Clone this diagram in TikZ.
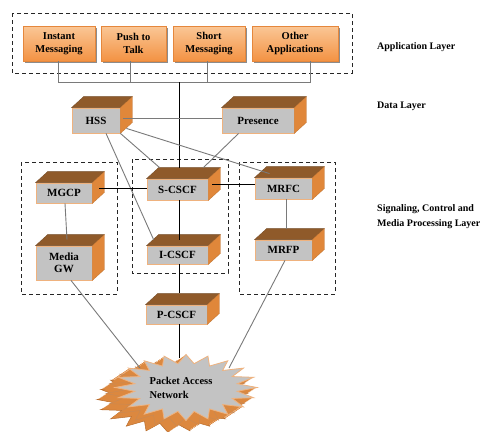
\documentclass[tikz,border=0pt]{standalone}
\usepackage{fontspec}
\setmainfont{Liberation Serif}
\usetikzlibrary{shadows,calc}
\definecolor{facec}{HTML}{C3C3C3}
\definecolor{edgec}{HTML}{EFB27E}
\definecolor{topc}{HTML}{8F5A2A}
\definecolor{sidec}{HTML}{E0873A}
\definecolor{apptop}{HTML}{FAC796}
\definecolor{appbot}{HTML}{F39243}
\definecolor{appedge}{HTML}{E5873C}
\definecolor{glinec}{HTML}{7A7A7A}
\definecolor{extc}{HTML}{DC883F}
\definecolor{extedge}{HTML}{B86C2C}
\newcommand\cubesides[1]{%
  \filldraw[fill=topc,draw=topc!80!black,line width=0.3pt] (#1.north west) -- ++(12,-11) -- ([shift={(12,-11)}]#1.north east) -- (#1.north east) -- cycle;
  \filldraw[fill=sidec,draw=sidec!85!black,line width=0.3pt] (#1.north east) -- ++(12,-11) -- ([shift={(12,-11)}]#1.south east) -- (#1.south east) -- cycle;}
\begin{document}
\begin{tikzpicture}[x=1pt,y=-1pt,
  cube/.style={fill=facec,draw=edgec,line width=0.8pt,font=\bfseries\fontsize{11}{12.5}\selectfont,align=center,inner sep=1pt},
  app/.style={top color=apptop,bottom color=appbot,draw=appedge,line width=0.6pt,
     font=\bfseries\fontsize{10.5}{12.5}\selectfont,align=center,inner sep=1pt,minimum height=35pt,
     drop shadow={shadow xshift=2pt,shadow yshift=-2pt,fill=black!45,opacity=1}},
  layer/.style={font=\bfseries\fontsize{10}{15}\selectfont,align=left,anchor=west,inner sep=0pt},
  dbox/.style={draw=black!85,dashed,dash pattern=on 4pt off 3pt,line width=0.8pt},
  gline/.style={draw=glinec,line width=0.9pt},
  bline/.style={draw=black,line width=0.8pt}]
\useasboundingbox (0,0) rectangle (487,431);
\fill[white] (0,0) rectangle (487,431);

% application layer
\draw[dbox] (12,13) rectangle (352,73);
\node[app,minimum width=72pt] (im)  at (59,43.5)  {Instant\\Messaging};
\node[app,minimum width=65pt] (ptt) at (133.5,43.5) {Push to\\Talk};
\node[app,minimum width=72pt] (sm)  at (209,43.5) {Short\\Messaging};
\node[app,minimum width=86pt] (oa)  at (295,43.5) {Other\\Applications};

% dashed groups
\draw[dbox] (21,162) rectangle (117,294);
\draw[dbox] (132,159) rectangle (228,273);
\draw[dbox] (239,162) rectangle (335,294);

% data layer
\node[cube,minimum width=48pt,minimum height=25pt] (hss) at (96,120.5) {HSS};
\cubesides{hss}
\node[cube,minimum width=72pt,minimum height=25pt] (pres) at (258,120.5) {Presence};
\cubesides{pres}

% signalling layer
\node[cube,minimum width=56pt,minimum height=20pt] (mgcp) at (64,193) {MGCP};
\cubesides{mgcp}
\node[cube,minimum width=56pt,minimum height=34pt] (mgw) at (64,263) {Media\\GW};
\cubesides{mgw}
\node[cube,minimum width=61pt,minimum height=21pt] (scscf) at (177.5,189.5) {S-CSCF};
\cubesides{scscf}
\node[cube,minimum width=61pt,minimum height=18pt] (icscf) at (177.5,255) {I-CSCF};
\cubesides{icscf}
\node[cube,minimum width=57pt,minimum height=21pt] (mrfc) at (283.5,188.5) {MRFC};
\cubesides{mrfc}
\node[cube,minimum width=57pt,minimum height=20pt] (mrfp) at (283.5,250) {MRFP};
\cubesides{mrfp}
\node[cube,minimum width=61pt,minimum height=19pt] (pcscf) at (176.5,314.5) {P-CSCF};
\cubesides{pcscf}

% packet access network starburst
\begin{scope}[shift={(186,387.5)}]
  \filldraw[fill=extc,draw=extedge,line width=0.5pt,shift={(-18,12)}]
      plot[samples at={0,...,39},variable=\k]
      ({71*(1-0.27*mod(\k,2))*cos(9*\k)},{33*(1-0.27*mod(\k,2))*sin(9*\k)}) -- cycle;
  \foreach \s in {11,...,1}{
    \fill[fill=extc,shift={(-1.5*\s,1*\s)}]
      plot[samples at={0,...,39},variable=\k]
      ({71*(1-0.27*mod(\k,2))*cos(9*\k)},{33*(1-0.27*mod(\k,2))*sin(9*\k)}) -- cycle;
  }
  \draw[draw=extedge!80,line width=0.4pt,shift={(-9,6)}]
      plot[samples at={0,...,39},variable=\k]
      ({71*(1-0.27*mod(\k,2))*cos(9*\k)},{33*(1-0.27*mod(\k,2))*sin(9*\k)}) -- cycle;
  \filldraw[fill=facec,draw=edgec,line width=0.8pt]
    plot[samples at={0,...,39},variable=\k]
    ({71*(1-0.27*mod(\k,2))*cos(9*\k)},{33*(1-0.27*mod(\k,2))*sin(9*\k)}) -- cycle;
\end{scope}
\node[font=\bfseries\fontsize{10.5}{14}\selectfont,align=left,inner sep=0pt] (pan) at (181,388) {Packet Access\\Network};

% application bus
\coordinate (bus) at (179,82);
\draw[gline] ([xshift=-1pt]im.south) |- (bus);
\draw[gline] ([xshift=-3.5pt]ptt.south) |- (bus);
\draw[gline] ([xshift=-2pt]sm.south) |- (bus);
\draw[gline] ([xshift=15pt]oa.south) |- (bus);
\draw[bline] (bus) -- ([shift={(1.5,-11)}]scscf.north);

% data layer links
\draw[gline] ([shift={(3,-2.5)}]hss.east) -- ([shift={(0,-2.5)}]pres.west);
\draw[gline] (hss.south east) -- ([shift={(13,-11)}]scscf.north west);
\draw[gline] ([shift={(6,-5)}]hss.south east) -- ([shift={(15,-4)}]mrfc.north west);
\draw[gline] ([shift={(10,0)}]hss.south) -- ([shift={(7,-6)}]icscf.north west);
\draw[gline] ([shift={(17,0)}]pres.south west) -- ([shift={(-5,-11)}]scscf.north east);

% signalling links
\draw[bline] ([shift={(0,-1.5)}]scscf.west) -- ([shift={(7,-5)}]mgcp.east);
\draw[bline] ([shift={(4,-5.5)}]scscf.east) -- ([shift={(0,-4.5)}]mrfc.west);
\draw[bline] ([shift={(1.5,0)}]scscf.south) -- ([shift={(1.5,-6)}]icscf.north);
\draw[bline] ([shift={(1.5,0)}]icscf.south) -- ([shift={(2.5,-12)}]pcscf.north);
\draw[bline] ([shift={(2.5,0)}]pcscf.south) -- ([shift={(-2,-30)}]pan.center);
\draw[gline] ([shift={(1,0)}]mgcp.south) -- ([shift={(3,-6)}]mgw.north);
\draw[gline] ([shift={(2.5,0)}]mrfc.south) -- ([shift={(2.5,-11)}]mrfp.north);
\draw[gline] ([shift={(7,0)}]mgw.south) -- ([shift={(-41,-20)}]pan.center);
\draw[gline] ([shift={(1.5,0)}]mrfp.south) -- ([shift={(48,-20)}]pan.center);

% layer labels
\node[layer] (l1) at (377,47) {Application Layer};
\node[layer] (l2) at (377,106) {Data Layer};
\node[layer] (l3) at (377,217) {Signaling, Control and\\Media Processing Layer};
\end{tikzpicture}
\end{document}
